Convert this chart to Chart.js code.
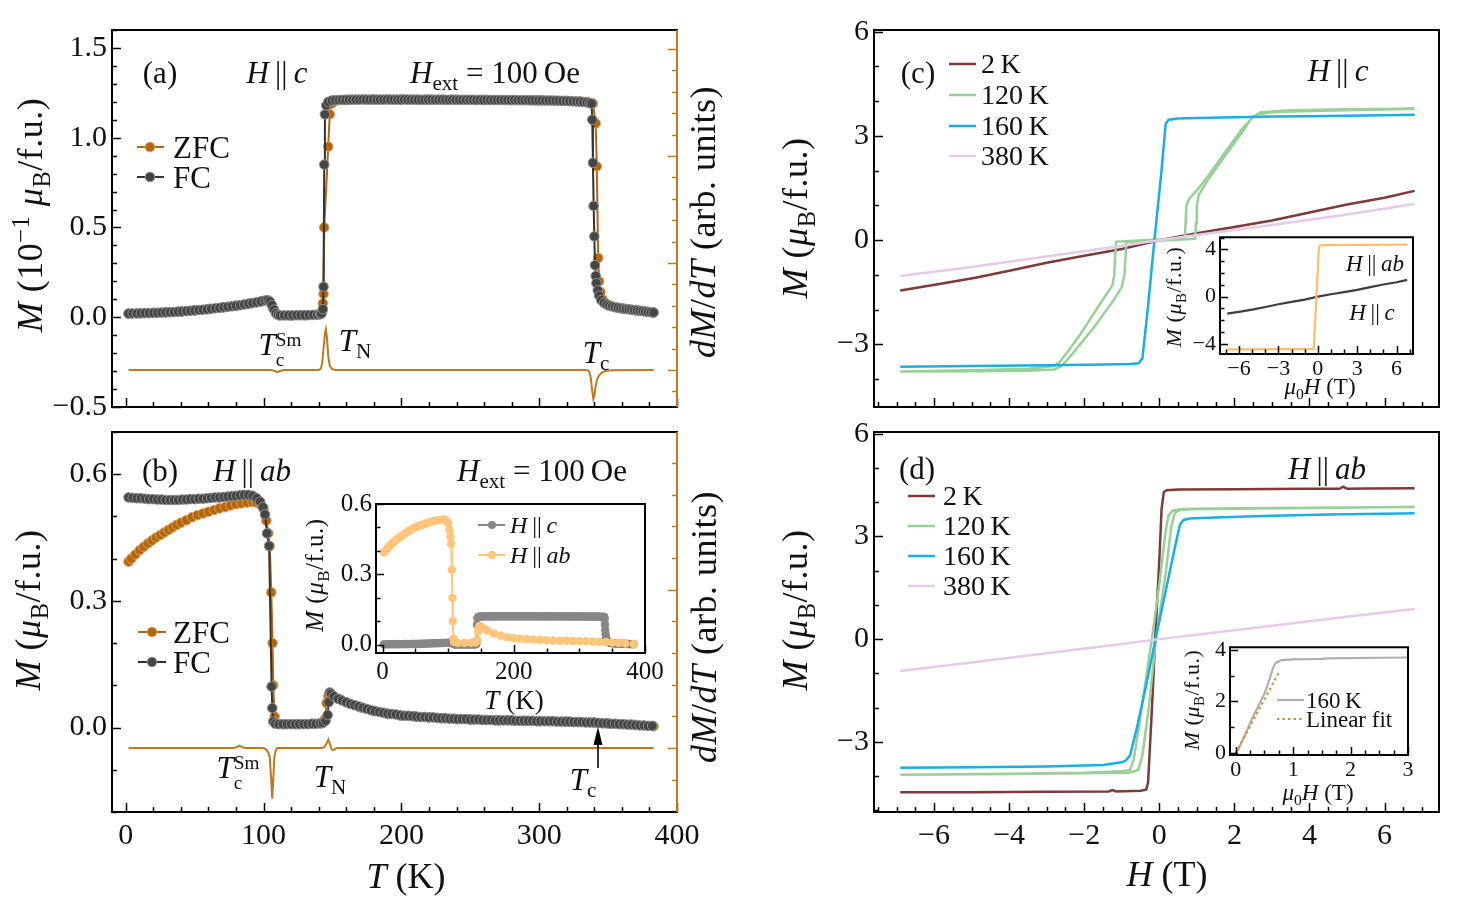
<!DOCTYPE html>
<html lang="en">
<head>
<meta charset="UTF-8">
<title>Magnetization vs temperature and field</title>
<script src="https://cdn.jsdelivr.net/npm/chart.js"></script>
<style>
  body { margin: 0; background: #fff; }
  #fig { position: relative; width: 1462px; height: 903px; overflow: hidden; font-family: 'Liberation Serif', serif; color: #111; }
  #fig canvas { position: absolute; }
  #ov { position: absolute; left: 0; top: 0; }
  .t { position: absolute; white-space: nowrap; line-height: 1; transform: translate(-50%, -50%); }
  .tl { transform: translate(0, -50%); }
  .rot { transform: translate(-50%, -50%) rotate(-90deg); letter-spacing: 0.5px; }
  sub, sup { font-size: 0.68em; line-height: 0; }
  .stk { display: inline-block; vertical-align: -0.55em; font-size: 0.62em; line-height: 1.0; }
  .stk span { display: block; }
</style>
</head>
<body>
<div id="fig">
  <canvas id="cA"></canvas>
  <canvas id="cB"></canvas>
  <canvas id="cC"></canvas>
  <canvas id="cD"></canvas>
  <canvas id="cBi"></canvas>
  <canvas id="cCi"></canvas>
  <canvas id="cDi"></canvas>

  <svg id="ov" width="1462" height="903">
    <!-- legend (a) -->
    <line x1="137" y1="147" x2="164" y2="147" stroke="#b5650d" stroke-width="2"/>
    <circle cx="150" cy="147" r="4.8" fill="#b5650d" stroke="#dba15c"/>
    <line x1="137" y1="177" x2="164" y2="177" stroke="#333" stroke-width="2"/>
    <circle cx="150" cy="177" r="4.8" fill="#454545" stroke="#8e8e8e"/>
    <!-- legend (b) -->
    <line x1="138" y1="632" x2="166" y2="632" stroke="#b5650d" stroke-width="2"/>
    <circle cx="152" cy="632" r="4.8" fill="#b5650d" stroke="#dba15c"/>
    <line x1="138" y1="662" x2="166" y2="662" stroke="#333" stroke-width="2"/>
    <circle cx="152" cy="662" r="4.8" fill="#454545" stroke="#8e8e8e"/>
    <!-- legend inset (b) -->
    <line x1="478" y1="525" x2="505" y2="525" stroke="#878787" stroke-width="2"/>
    <circle cx="492" cy="525" r="4" fill="#878787"/>
    <line x1="478" y1="555" x2="505" y2="555" stroke="#ffc57a" stroke-width="2"/>
    <circle cx="492" cy="555" r="4" fill="#ffc57a"/>
    <!-- arrow (b) -->
    <line x1="598" y1="768" x2="598" y2="742" stroke="#000" stroke-width="1.6"/>
    <polygon points="598,727 593.5,745 602.5,745" fill="#000"/>
    <!-- legend (c) -->
    <line x1="949" y1="64" x2="976" y2="64" stroke="#7d3a3a" stroke-width="2.5"/>
    <line x1="949" y1="95" x2="976" y2="95" stroke="#98d098" stroke-width="2.5"/>
    <line x1="949" y1="126" x2="976" y2="126" stroke="#18aee6" stroke-width="2.5"/>
    <line x1="949" y1="156" x2="976" y2="156" stroke="#e6cbe6" stroke-width="2.5"/>
    <!-- legend (d) -->
    <line x1="908" y1="496" x2="935" y2="496" stroke="#7d3a3a" stroke-width="2.5"/>
    <line x1="908" y1="526" x2="935" y2="526" stroke="#98d098" stroke-width="2.5"/>
    <line x1="908" y1="556" x2="935" y2="556" stroke="#18aee6" stroke-width="2.5"/>
    <line x1="908" y1="586" x2="935" y2="586" stroke="#e6cbe6" stroke-width="2.5"/>
    <!-- legend inset (d) -->
    <line x1="1277" y1="700" x2="1304" y2="700" stroke="#b0b0b0" stroke-width="2.2"/>
    <line x1="1277" y1="719" x2="1304" y2="719" stroke="#d4913c" stroke-width="2.2" stroke-dasharray="2.5 3"/>
  </svg>

  <!-- panel (a) texts -->
  <div class="t" style="left:160px;top:72px;font-size:31px">(a)</div>
  <div class="t" style="left:277px;top:72px;font-size:31px"><i>H</i>&thinsp;||&thinsp;<i>c</i></div>
  <div class="t" style="left:495px;top:72px;font-size:31px"><i>H</i><sub>ext</sub> = 100&thinsp;Oe</div>
  <div class="t tl" style="left:173px;top:147px;font-size:31px">ZFC</div>
  <div class="t tl" style="left:173px;top:177px;font-size:31px">FC</div>
  <div class="t" style="left:280px;top:349px;font-size:31px"><i>T</i><span class="stk"><span>Sm</span><span>c</span></span></div>
  <div class="t" style="left:355px;top:340px;font-size:31px"><i>T</i><sub>N</sub></div>
  <div class="t" style="left:596px;top:352px;font-size:31px"><i>T</i><sub>c</sub></div>
  <div class="t rot" style="left:30px;top:215px;font-size:36px"><i>M</i> (10<sup>−1</sup> <i>μ</i><sub>B</sub>/f.u.)</div>
  <div class="t rot" style="left:703px;top:222px;font-size:36px"><i>dM</i>/<i>dT</i> (arb. units)</div>

  <!-- panel (b) texts -->
  <div class="t" style="left:160px;top:470px;font-size:31px">(b)</div>
  <div class="t" style="left:252px;top:470px;font-size:31px"><i>H</i>&thinsp;||&thinsp;<i>ab</i></div>
  <div class="t" style="left:542px;top:470px;font-size:31px"><i>H</i><sub>ext</sub> = 100&thinsp;Oe</div>
  <div class="t tl" style="left:173px;top:632px;font-size:31px">ZFC</div>
  <div class="t tl" style="left:173px;top:662px;font-size:31px">FC</div>
  <div class="t" style="left:238px;top:772px;font-size:31px"><i>T</i><span class="stk"><span>Sm</span><span>c</span></span></div>
  <div class="t" style="left:330px;top:776px;font-size:31px"><i>T</i><sub>N</sub></div>
  <div class="t" style="left:583px;top:779px;font-size:31px"><i>T</i><sub>c</sub></div>
  <div class="t rot" style="left:28px;top:610px;font-size:36px"><i>M</i> (<i>μ</i><sub>B</sub>/f.u.)</div>
  <div class="t rot" style="left:704px;top:627px;font-size:36px"><i>dM</i>/<i>dT</i> (arb. units)</div>
  <div class="t" style="left:406px;top:876px;font-size:36px"><i>T</i>&nbsp;(K)</div>
  <div class="t rot" style="left:314px;top:575px;font-size:25px"><i>M</i> (<i>μ</i><sub>B</sub>/f.u.)</div>
  <div class="t" style="left:514px;top:700px;font-size:27px"><i>T</i>&nbsp;(K)</div>
  <div class="t tl" style="left:510px;top:525px;font-size:24px"><i>H</i>&thinsp;||&thinsp;<i>c</i></div>
  <div class="t tl" style="left:510px;top:555px;font-size:24px"><i>H</i>&thinsp;||&thinsp;<i>ab</i></div>

  <!-- panel (c) texts -->
  <div class="t" style="left:918px;top:72px;font-size:31px">(c)</div>
  <div class="t tl" style="left:981px;top:64px;font-size:28px">2&thinsp;K</div>
  <div class="t tl" style="left:981px;top:95px;font-size:28px">120&thinsp;K</div>
  <div class="t tl" style="left:981px;top:126px;font-size:28px">160&thinsp;K</div>
  <div class="t tl" style="left:981px;top:156px;font-size:28px">380&thinsp;K</div>
  <div class="t" style="left:1338px;top:70px;font-size:31px"><i>H</i>&thinsp;||&thinsp;<i>c</i></div>
  <div class="t rot" style="left:795px;top:218px;font-size:36px"><i>M</i> (<i>μ</i><sub>B</sub>/f.u.)</div>
  <div class="t" style="left:1375px;top:263px;font-size:23px"><i>H</i>&thinsp;||&thinsp;<i>ab</i></div>
  <div class="t" style="left:1372px;top:312px;font-size:23px"><i>H</i>&thinsp;||&thinsp;<i>c</i></div>
  <div class="t rot" style="left:1174px;top:297px;font-size:22px"><i>M</i> (<i>μ</i><sub>B</sub>/f.u.)</div>
  <div class="t" style="left:1320px;top:386px;font-size:23px"><i>μ</i><sub>0</sub><i>H</i> (T)</div>

  <!-- panel (d) texts -->
  <div class="t" style="left:917px;top:468px;font-size:31px">(d)</div>
  <div class="t tl" style="left:943px;top:496px;font-size:28px">2&thinsp;K</div>
  <div class="t tl" style="left:943px;top:526px;font-size:28px">120&thinsp;K</div>
  <div class="t tl" style="left:943px;top:556px;font-size:28px">160&thinsp;K</div>
  <div class="t tl" style="left:943px;top:586px;font-size:28px">380&thinsp;K</div>
  <div class="t" style="left:1327px;top:468px;font-size:31px"><i>H</i>&thinsp;||&thinsp;<i>ab</i></div>
  <div class="t rot" style="left:795px;top:610px;font-size:36px"><i>M</i> (<i>μ</i><sub>B</sub>/f.u.)</div>
  <div class="t" style="left:1167px;top:874px;font-size:36px"><i>H</i>&nbsp;(T)</div>
  <div class="t rot" style="left:1192px;top:700px;font-size:22px"><i>M</i> (<i>μ</i><sub>B</sub>/f.u.)</div>
  <div class="t" style="left:1318px;top:792px;font-size:23px"><i>μ</i><sub>0</sub><i>H</i> (T)</div>
  <div class="t tl" style="left:1306px;top:700px;font-size:23px">160&thinsp;K</div>
  <div class="t tl" style="left:1306px;top:719px;font-size:23px">Linear fit</div>
</div>

<script>
  // ---- (a) H || c, M in units of 1e-1 muB/f.u.
  const tFcA = [2,5,8,11,14,17,20,23,26,29,32,35,38,41,44,47,50,53,56,59,62,65,68,71,74,77,80,83,86,89,92,95,98,101,103,
    104.5,106,107.5,109,110.5,112,115,118,121,124,127,130,133,136,139,141,142,143,143.5,144,144.5,145.5,147,
    149.5,152,154.5,157,159.5,162,164.5,167,169.5,172,174.5,177,179.5,182,184.5,187,189.5,192,194.5,197,
    199.5,202,204.5,207,209.5,212,214.5,217,219.5,222,224.5,227,229.5,232,234.5,237,239.5,242,244.5,247,
    249.5,252,254.5,257,259.5,262,264.5,267,269.5,272,274.5,277,279.5,282,284.5,287,289.5,292,294.5,297,
    299.5,302,304.5,307,309.5,312,314.5,317,319.5,322,324.5,327,329.5,332,334.5,
    336.5,338,338.5,339,339.5,340,340.5,341,341.5,342.5,343.5,345,347,349,351,353,355,357,359,361,363,365,367,369,371,373,375,377,379,381,383];
  const mFcA = [0.020,0.021,0.021,0.022,0.023,0.023,0.024,0.025,0.026,0.027,0.028,0.029,0.031,0.032,0.034,0.036,0.038,0.040,0.042,0.044,
    0.047,0.050,0.052,0.055,0.058,0.061,0.064,0.067,0.071,0.075,0.079,0.083,0.088,0.093,0.095,
    0.088,0.068,0.042,0.022,0.013,0.010,0.010,0.010,0.010,0.011,0.011,0.011,0.012,0.013,0.014,0.017,0.020,0.045,0.17,0.85,1.13,1.18,1.20,
    1.207,1.209,1.21,1.211,1.211,1.212,1.212,1.212,1.212,1.213,1.212,1.212,1.213,1.212,1.212,1.212,1.213,1.212,1.212,1.212,
    1.212,1.213,1.212,1.212,1.212,1.212,1.211,1.212,1.212,1.212,1.211,1.212,1.212,1.211,1.211,1.212,1.211,1.211,1.211,1.211,
    1.211,1.211,1.210,1.211,1.210,1.211,1.210,1.210,1.210,1.210,1.210,1.210,1.209,1.210,1.209,1.209,1.209,1.209,1.208,1.208,
    1.208,1.208,1.207,1.207,1.207,1.206,1.206,1.205,1.205,1.204,1.203,1.202,1.201,1.199,1.197,
    1.194,1.19,1.10,0.86,0.62,0.45,0.29,0.23,0.19,0.15,0.12,0.095,0.08,0.07,0.064,0.06,0.056,0.053,0.05,0.048,0.046,0.044,0.042,0.04,0.038,0.036,0.034,0.032,0.03,0.028,0.026];
  const tZfcA = [2,10,20,30,40,50,60,70,80,90,98,103,105,107,109,111,120,130,140,142.5,143,143.5,144,146.9,148,149.5,152,160,180,200,
    220,240,260,280,300,320,330,335,339,341,341.8,342.8,343.5,344.5,346,350,360,370,383];
  const mZfcA = [0.020,0.022,0.025,0.028,0.032,0.038,0.046,0.055,0.065,0.077,0.088,0.094,0.080,0.048,0.020,0.011,0.010,0.011,0.014,0.030,
    0.077,0.13,0.50,0.95,1.13,1.19,1.205,1.21,1.212,1.212,1.211,1.211,1.211,1.21,1.208,1.205,1.202,1.198,1.19,1.08,
    0.84,0.33,0.20,0.14,0.10,0.07,0.05,0.038,0.026];
  // dM/dT (a), arbitrary units
  const tDerA = [2,100,105,107,108.5,110,111.5,113,115,140,141.5,142.5,143.5,144.5,145.2,146,147,148,149.5,152,
    334,335.5,336.5,337.5,338.5,339.3,340,341,342,343.5,345.5,348,352,383];
  const dDerA = [0,0,0,-0.004,-0.012,-0.02,-0.012,-0.004,0,0,0.01,0.06,0.2,0.34,0.38,0.3,0.12,0.04,0.01,0,
    0,-0.005,-0.02,-0.08,-0.2,-0.27,-0.24,-0.15,-0.09,-0.05,-0.025,-0.01,-0.003,0];

  // ---- (b) H || ab, M in muB/f.u.
  const tFcB = [2,5,8,11,14,17,20,23,26,29,32,35,38,41,44,47,50,53,56,59,62,65,68,71,74,77,80,83,86,89,92,95,
    97.5,99.5,101,102.5,104,105.8,106.3,107,108.5,111,114,117,120,123,126,129,132,135,138,141,143,145,146.5,147.3,148,149,
    151,154,157,160,163,166,169,172,175,178,181,184,187,190,193,196,199,202,205,208,
    211,214,217,220,223,226,229,232,235,238,241,244,247,250,253,256,259,262,265,268,
    271,274,277,280,283,286,289,292,295,298,301,304,307,310,313,316,319,322,325,328,
    331,334,337,340,343,346,349,352,355,358,361,364,367,370,373,376,379,382];
  const mFcB = [0.545,0.544,0.543,0.543,0.542,0.541,0.541,0.540,0.540,0.539,0.539,0.539,0.539,0.540,0.540,0.541,0.541,0.542,0.542,0.543,
    0.544,0.545,0.545,0.546,0.547,0.548,0.549,0.550,0.551,0.551,0.549,0.543,
    0.535,0.522,0.505,0.46,0.43,0.097,0.046,0.014,0.009,0.008,0.008,0.008,0.008,0.008,0.008,0.008,0.008,0.009,0.009,0.010,0.011,0.016,0.03,0.06,0.083,0.08,
    0.074,0.068,0.064,0.06,0.056,0.053,0.05,0.047,0.044,0.041,0.039,0.037,0.035,0.033,0.032,0.031,0.029,0.028,0.028,0.027,
    0.026,0.025,0.025,0.024,0.024,0.023,0.022,0.022,0.021,0.021,0.02,0.02,0.02,0.019,0.019,0.019,0.018,0.018,0.018,0.017,
    0.017,0.017,0.017,0.017,0.016,0.016,0.016,0.016,0.016,0.015,0.015,0.015,0.015,0.015,0.014,0.014,0.014,0.014,0.013,0.013,
    0.013,0.012,0.012,0.012,0.011,0.01,0.01,0.009,0.009,0.008,0.008,0.007,0.007,0.006,0.005,0.005,0.004,0.004];
  const tZfcB = [2,4,7,10,13,16,19,22,25,28,31,34,37,40,44,48,52,56,60,64,68,72,76,80,84,88,92,95,98,100,
    102,103.5,104.5,105.6,106.5,107,108,109,115,125,135,142,144.5,145.7,147,148,150,155,160,170,180,190,
    200,210,220,230,240,250,260,270,280,290,300,310,320,330,340,350,360,370,383];
  const mZfcB = [0.393,0.4,0.41,0.42,0.428,0.436,0.443,0.45,0.456,0.462,0.468,0.474,0.48,0.485,0.491,0.498,0.503,0.507,0.511,0.515,
    0.519,0.522,0.526,0.529,0.531,0.533,0.534,0.533,0.527,0.518,0.49,0.46,0.43,0.32,0.2,0.1,0.026,0.012,0.008,0.008,
    0.009,0.01,0.02,0.058,0.075,0.08,0.077,0.068,0.06,0.048,0.039,0.032,
    0.028,0.026,0.024,0.022,0.02,0.019,0.018,0.017,0.017,0.016,0.015,0.015,0.014,0.013,0.012,0.01,0.008,0.006,0.003];
  const tDerB = [2,78,80.5,82.5,84.5,87,100,102,103.5,104.5,105.3,106.3,107,107.8,108.8,110,142,144,145.5,147,148.3,149.5,151,153,383];
  const dDerB = [0,0,0.005,0.015,0.005,0,0,-0.01,-0.03,-0.06,-0.17,-0.32,-0.2,-0.06,-0.015,0,0,0.005,0.025,0.053,0.02,-0.01,-0.012,0,0];

  // ---- (c) M(H), H || c
  const hC2 = [-6.9,-5.9,-4.9,-3.9,-3,-2,-1,0,1,2,3,4,5,6,6.8];
  const mC2 = [-1.45,-1.27,-1.08,-0.86,-0.65,-0.45,-0.25,0,0.2,0.38,0.57,0.8,1.03,1.22,1.42];
  const hC120 = [-6.9,-5,-3.5,-2.8,-2.6,-2.3,-2.0,-1.7,-1.4,-1.2,-1.0,-0.93,-0.9,-0.88,-0.6,-0.2,0.2,0.6,0.95,0.98,1.0,1.05,1.3,1.6,1.9,2.2,2.45,2.6,3,4,5,6,6.8,
    6.8,5,3.5,2.7,2.5,2.2,1.9,1.6,1.3,1.05,0.8,0.72,0.7,0.68,0.4,0,-0.4,-0.8,-1.15,-1.18,-1.2,-1.25,-1.5,-1.8,-2.1,-2.4,-2.65,-2.8,-3.5,-5,-6.9];
  const mC120 = [-3.78,-3.77,-3.76,-3.72,-3.62,-3.25,-2.85,-2.45,-2.0,-1.7,-1.35,-1.0,-0.5,-0.05,-0.04,-0.02,0.0,0.02,0.04,0.5,1.0,1.3,1.75,2.2,2.65,3.1,3.5,3.62,3.68,3.72,3.74,3.76,3.78,
    3.78,3.77,3.74,3.68,3.55,3.2,2.75,2.3,1.85,1.5,1.2,1.0,0.5,0.05,0.04,0.02,0,-0.02,-0.04,-0.5,-1.0,-1.3,-1.7,-2.2,-2.7,-3.15,-3.5,-3.62,-3.7,-3.74,-3.78];
  const hC160 = [-6.9,-5,-3,-1.5,-0.8,-0.55,-0.45,-0.3,-0.13,0.05,0.17,0.25,0.5,1,2,3,4,5,6,6.8];
  const mC160 = [-3.64,-3.62,-3.6,-3.58,-3.56,-3.54,-3.4,-1.9,0,1.9,3.35,3.47,3.5,3.52,3.54,3.56,3.57,3.58,3.6,3.61];
  const hC380 = [-6.9,-5,-3,-1,0,1,3,5,6.8];
  const mC380 = [-1.03,-0.77,-0.47,-0.16,0,0.15,0.44,0.74,1.04];

  // ---- (d) M(H), H || ab
  const hD2 = [-6.9,-5,-3,-1.35,-1.25,-1.15,-0.5,-0.35,-0.3,-0.2,-0.11,0,0.06,0.12,0.2,0.5,2,4,4.8,4.9,5.0,5.5,6.8];
  const mD2 = [-4.47,-4.47,-4.46,-4.45,-4.41,-4.45,-4.43,-4.4,-4.2,-2.1,0,2.3,3.8,4.3,4.35,4.37,4.38,4.39,4.39,4.45,4.39,4.4,4.41];
  const hD120 = [-6.9,-4,-2,-1,-0.78,-0.68,-0.55,-0.4,-0.2,0,0.15,0.24,0.35,0.6,2,4,6.8,
    6.8,4,2,1,0.6,0.42,0.32,0.18,-0.09,-0.28,-0.45,-0.56,-0.8,-2,-4,-6.9];
  const mD120 = [-3.96,-3.93,-3.9,-3.86,-3.82,-3.5,-2.6,-1.5,0,1.6,3.0,3.6,3.75,3.8,3.82,3.84,3.86,
    3.86,3.83,3.81,3.8,3.78,3.7,3.3,2.0,0,-2.0,-3.4,-3.82,-3.9,-3.92,-3.94,-3.96];
  const hD160 = [-6.9,-5,-3,-1.5,-1.0,-0.9,-0.78,-0.6,-0.35,-0.1,0.15,0.4,0.55,0.65,0.8,1.5,3,4.5,6,6.8];
  const mD160 = [-3.76,-3.74,-3.72,-3.68,-3.6,-3.55,-3.4,-2.6,-1.35,0,1.3,2.6,3.35,3.48,3.52,3.55,3.6,3.64,3.66,3.68];
  const hD380 = [-6.9,-5,-3,-1,0,1,3,5,6.8];
  const mD380 = [-0.93,-0.68,-0.41,-0.14,0,0.13,0.39,0.65,0.88];

  // ---- inset (d): 160 K low-field part and linear fit
  const hIn160 = [0,0.05,0.1,0.2,0.3,0.4,0.5,0.55,0.6,0.65,0.7,0.8,1,1.5,1.6,2,2.5,3];
  const mIn160 = [0,0.15,0.4,0.9,1.4,1.85,2.3,2.6,2.95,3.3,3.5,3.6,3.63,3.65,3.67,3.68,3.69,3.7];
  const hFit = [0, 0.77];
  const mFit = [0, 3.2];

  // ---- tick labels
  const ticksT = [0, 100, 200, 300, 400];
  const ticksMa = [-0.5, 0, 0.5, 1.0, 1.5];
  const ticksMb = [0, 0.3, 0.6];
  const ticksH = [-6, -4, -2, 0, 2, 4, 6];
  const ticksMcd = [-3, 0, 3, 6];
  const ticksInBx = [0, 200, 400];
  const ticksInBy = [0, 0.3, 0.6];
  const ticksInCx = [-6, -3, 0, 3, 6];
  const ticksInCy = [-4, 0, 4];
  const ticksInDx = [0, 1, 2, 3];
  const ticksInDy = [0, 2, 4];

  const SERIF = "'Liberation Serif', serif";
  const ORANGE = '#bf7a1e';
  Chart.defaults.font.family = SERIF;

  function pts(xs, ys, k) {
    return xs.map((x, i) => ({ x: x, y: ys[i] * (k || 1) }));
  }
  function marker(xs, ys, fill, edge, lineCol, r, k) {
    return { data: pts(xs, ys, k), showLine: true, borderColor: lineCol, borderWidth: 2,
      pointRadius: r, pointBackgroundColor: fill, pointBorderColor: edge, pointBorderWidth: 1 };
  }
  function curve(xs, ys, col, w, dash) {
    return { data: pts(xs, ys), showLine: true, borderColor: col, borderWidth: w, pointRadius: 0, borderDash: dash || [] };
  }
  function num(dec) {
    return v => (v < -1e-9 ? '\u2212' : '') + Math.abs(v).toFixed(dec);
  }
  function axis(min, max, list, size, dec, show, pad) {
    return {
      type: 'linear', min: min, max: max,
      grid: { display: false, drawTicks: false }, border: { display: false },
      afterBuildTicks: s => { s.ticks = list.map(v => ({ value: v })); },
      ticks: { display: show, autoSkip: false, maxRotation: 0, minRotation: 0,
        color: '#111', padding: pad === undefined ? 6 : pad, font: { size: size }, callback: num(dec) }
    };
  }

  // inward tick marks and the box round the plot area
  function frame(cfg) {
    return {
      id: 'frame',
      beforeDatasetsDraw(chart) {
        if (!cfg.fill) return;
        const a = chart.chartArea;
        chart.ctx.save();
        chart.ctx.fillStyle = '#fff';
        chart.ctx.fillRect(a.left, a.top, a.right - a.left, a.bottom - a.top);
        chart.ctx.restore();
      },
      afterDatasetsDraw(chart) {
        const ctx = chart.ctx, a = chart.chartArea;
        ctx.save();
        ctx.lineWidth = 1.5;
        cfg.ticks.forEach(t => {
          const s = chart.scales[t.scale];
          ctx.strokeStyle = t.color || '#000';
          const i0 = Math.ceil(s.min / t.minor - 1e-6), i1 = Math.floor(s.max / t.minor + 1e-6);
          for (let i = i0; i <= i1; i++) {
            const v = i * t.minor, r = v / t.major;
            const len = Math.abs(r - Math.round(r)) < 1e-6 ? cfg.len[0] : cfg.len[1];
            const p = Math.round(s.getPixelForValue(v)) + 0.5;
            ctx.beginPath();
            if (t.side === 'bottom') { ctx.moveTo(p, a.bottom); ctx.lineTo(p, a.bottom - len); }
            else if (t.side === 'left') { ctx.moveTo(a.left, p); ctx.lineTo(a.left + len, p); }
            else { ctx.moveTo(a.right, p); ctx.lineTo(a.right - len, p); }
            ctx.stroke();
          }
        });
        const w = 2, c = cfg.colors || {};
        const side = (col, x1, y1, x2, y2) => {
          ctx.strokeStyle = col; ctx.lineWidth = w;
          ctx.beginPath(); ctx.moveTo(x1, y1); ctx.lineTo(x2, y2); ctx.stroke();
        };
        side('#000', a.left - 1, a.top, a.right + 1, a.top);
        side('#000', a.left - 1, a.bottom, a.right + 1, a.bottom);
        side('#000', a.left, a.top, a.left, a.bottom);
        side(c.right || '#000', a.right, a.top, a.right, a.bottom);
        ctx.restore();
      }
    };
  }

  // box = plot area in page pixels, m = room round it for labels
  function panel(id, box, m, datasets, scales, cfg) {
    const cv = document.getElementById(id);
    const w = box[2] - box[0] + m.l + m.r, h = box[3] - box[1] + m.t + m.b;
    cv.width = w; cv.height = h;
    cv.style.width = w + 'px'; cv.style.height = h + 'px';
    cv.style.left = (box[0] - m.l) + 'px'; cv.style.top = (box[1] - m.t) + 'px';
    scales.x.afterFit = s => { s.height = m.b; };
    scales.y.afterFit = s => { s.width = m.l; };
    return new Chart(cv, {
      type: 'scatter',
      data: { datasets: datasets },
      options: {
        responsive: false, animation: false, devicePixelRatio: 1,
        layout: { autoPadding: false, padding: { left: 0, top: m.t, right: m.r, bottom: 0 } },
        plugins: { legend: { display: false }, tooltip: { enabled: false } },
        scales: scales
      },
      plugins: [frame(cfg)]
    });
  }

  const tX = { scale: 'x', side: 'bottom', major: 100, minor: 20 };

  // (a)
  panel('cA', [112, 30, 677, 407], { l: 112, r: 30, t: 24, b: 24 }, [
    Object.assign(marker(tFcA, mFcA, '#454545', '#8e8e8e', '#333', 4.8), { order: 0 }),
    Object.assign(marker(tZfcA, mZfcA, '#b5650d', '#dba15c', '#b5650d', 4.8), { order: 1 }),
    Object.assign(curve(tDerA, dDerA, ORANGE, 2), { yAxisID: 'y1', order: 2 })
  ], {
    x: axis(-10, 400, ticksT, 30, 0, false),
    y: axis(-0.5, 1.6, ticksMa, 30, 1, true, 5),
    y1: { type: 'linear', display: false, min: -0.346, max: 3.178 }
  }, { len: [9, 5], colors: { right: ORANGE }, ticks: [tX,
    { scale: 'y', side: 'left', major: 0.5, minor: 0.1 },
    { scale: 'y1', side: 'right', major: 1, minor: 0.2, color: ORANGE }] });

  // (b)
  panel('cB', [112, 432, 677, 812], { l: 112, r: 30, t: 24, b: 45 }, [
    Object.assign(marker(tFcB, mFcB, '#454545', '#8e8e8e', '#333', 4.8), { order: 0 }),
    Object.assign(marker(tZfcB, mZfcB, '#b5650d', '#dba15c', '#b5650d', 4.8), { order: 1 }),
    Object.assign(curve(tDerB, dDerB, ORANGE, 2), { yAxisID: 'y1', order: 2 })
  ], {
    x: axis(-10, 400, ticksT, 30, 0, true),
    y: axis(-0.2, 0.7, ticksMb, 30, 1, true, 5),
    y1: { type: 'linear', display: false, min: -0.404, max: 1.996 }
  }, { len: [9, 5], colors: { right: ORANGE }, ticks: [tX,
    { scale: 'y', side: 'left', major: 0.3, minor: 0.1 },
    { scale: 'y1', side: 'right', major: 1, minor: 0.2, color: ORANGE }] });

  // (c)
  const hTicks = { scale: 'x', side: 'bottom', major: 2, minor: 0.5 };
  const mTicks = { scale: 'y', side: 'left', major: 3, minor: 1 };
  panel('cC', [874, 30, 1439, 407], { l: 95, r: 20, t: 24, b: 24 }, [
    Object.assign(curve(hC2, mC2, '#7d3a3a', 2.5), { order: 4 }),
    Object.assign(curve(hC120, mC120, '#98d098', 2.5), { order: 3 }),
    Object.assign(curve(hC160, mC160, '#18aee6', 2.5), { order: 2 }),
    Object.assign(curve(hC380, mC380, '#e6cbe6', 2.5), { order: 1 })
  ], {
    x: axis(-7.6, 7.45, ticksH, 30, 0, false),
    y: axis(-4.8, 6.05, ticksMcd, 30, 0, true, 5)
  }, { len: [9, 5], ticks: [hTicks, mTicks] });

  // (d)
  panel('cD', [874, 432, 1439, 812], { l: 95, r: 20, t: 24, b: 45 }, [
    Object.assign(curve(hD2, mD2, '#7d3a3a', 2.5), { order: 4 }),
    Object.assign(curve(hD120, mD120, '#98d098', 2.5), { order: 3 }),
    Object.assign(curve(hD160, mD160, '#18aee6', 2.5), { order: 2 }),
    Object.assign(curve(hD380, mD380, '#e6cbe6', 2.5), { order: 1 })
  ], {
    x: axis(-7.6, 7.45, ticksH, 30, 0, true),
    y: axis(-5.05, 6.05, ticksMcd, 30, 0, true, 5)
  }, { len: [9, 5], ticks: [hTicks, mTicks] });

  // inset (b): both orientations
  panel('cBi', [376, 503, 645, 653], { l: 55, r: 28, t: 18, b: 30 }, [
    Object.assign(marker(tZfcB, mZfcB, '#ffc57a', '#ffc57a', '#ffc57a', 3.8), { order: 0 }),
    Object.assign(marker(tFcA, mFcA, '#878787', '#878787', '#878787', 3.8, 0.1), { order: 1 })
  ], {
    x: axis(-10, 400, ticksInBx, 25, 0, true, 4),
    y: axis(-0.035, 0.6, ticksInBy, 25, 1, true, 4)
  }, { fill: true, len: [8, 4.5], ticks: [
    { scale: 'x', side: 'bottom', major: 200, minor: 50 },
    { scale: 'y', side: 'left', major: 0.3, minor: 0.1 }] });

  // inset (c): 2 K loops for both orientations
  panel('cCi', [1220, 236, 1413, 354], { l: 40, r: 14, t: 16, b: 26 }, [
    Object.assign(curve(hD2, mD2, '#ffbd6b', 2.2), { order: 0 }),
    Object.assign(curve(hC2, mC2, '#3d3d3d', 2.2), { order: 1 })
  ], {
    x: axis(-7.45, 7.25, ticksInCx, 22, 0, true, 2),
    y: axis(-4.87, 5.04, ticksInCy, 22, 0, true, 4)
  }, { fill: true, len: [8, 4.5], ticks: [
    { scale: 'x', side: 'bottom', major: 3, minor: 1 },
    { scale: 'y', side: 'left', major: 4, minor: 1 }] });

  // inset (d): 160 K with linear fit
  panel('cDi', [1230, 646, 1408, 755], { l: 25, r: 14, t: 16, b: 26 }, [
    Object.assign(curve(hIn160, mIn160, '#b0b0b0', 2.2), { order: 1 }),
    Object.assign(curve(hFit, mFit, '#d4913c', 2.2, [2.5, 3]), { order: 0 })
  ], {
    x: axis(-0.1, 3.0, ticksInDx, 22, 0, true, 2),
    y: axis(-0.08, 4.1, ticksInDy, 22, 0, true, 4)
  }, { fill: true, len: [8, 4.5], ticks: [
    { scale: 'x', side: 'bottom', major: 1, minor: 0.25 },
    { scale: 'y', side: 'left', major: 2, minor: 1 }] });
</script>
</body>
</html>
